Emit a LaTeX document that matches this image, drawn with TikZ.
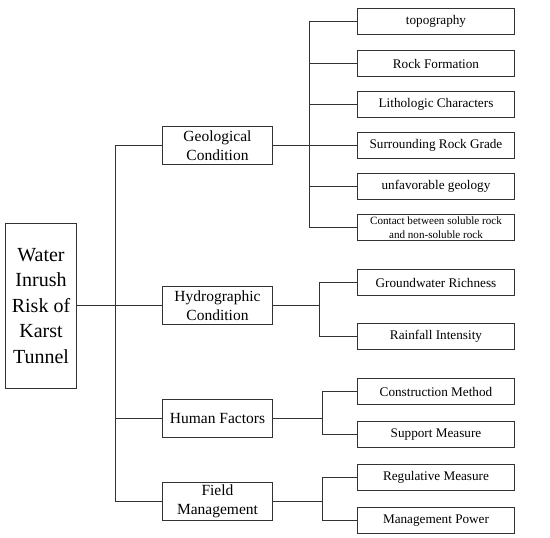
\documentclass[tikz,border=0pt]{standalone}
\usepackage{fontspec}
\setmainfont{Liberation Serif}
\newfontfamily\tnr{Liberation Serif}
\begin{document}
\begin{tikzpicture}[x=1pt,y=-1pt,
  conn/.style={draw=black!80,line width=1.2pt},
  box/.style={draw=black!80,line width=1.2pt,inner sep=0pt,align=center},
  rootbox/.style={box,minimum width=71pt,minimum height=165pt,font=\tnr\fontsize{20}{25.5}\selectfont},
  midbox/.style={box,minimum width=110pt,minimum height=38pt,font=\tnr\fontsize{15.5}{19.3}\selectfont},
  leafbox/.style={box,minimum width=157pt,minimum height=26pt,font=\tnr\fontsize{13.2}{15}\selectfont},
  smallleaf/.style={leafbox,font=\tnr\fontsize{11.1}{13.5}\selectfont}]
\useasboundingbox (0,0) rectangle (550,538);
\node[rootbox] (root) at (41,306) {Water\\Inrush\\Risk of\\Karst\\Tunnel};
\node[midbox] (m1) at (217.5,145.5) {Geological\\Condition};
\node[midbox] (m2) at (217.5,305.5) {Hydrographic\\Condition};
\node[midbox] (m3) at (217.5,418.5) {Human Factors};
\node[midbox] (m4) at (217.5,501.5) {Field\\Management};
\node[leafbox] (g1) at (436,21.5) {topography};
\node[leafbox] (g2) at (436,63.5) {Rock Formation};
\node[leafbox] (g3) at (436,104.5) {Lithologic Characters};
\node[leafbox] (g4) at (436,145.5) {Surrounding Rock Grade};
\node[leafbox] (g5) at (436,186.5) {unfavorable geology};
\node[smallleaf] (g6) at (436,227.5) {Contact between soluble rock\\and non-soluble rock};
\node[leafbox] (h1) at (436,282.5) {Groundwater Richness};
\node[leafbox] (h2) at (436,336.5) {Rainfall Intensity};
\node[leafbox] (u1) at (436,391.5) {Construction Method};
\node[leafbox] (u2) at (436,434.5) {Support Measure};
\node[leafbox] (f1) at (436,477.5) {Regulative Measure};
\node[leafbox] (f2) at (436,520.5) {Management Power};
\coordinate (b) at (115.5,0);
\coordinate (gb) at (309.5,0);
\coordinate (hb) at (319.5,0);
\coordinate (ub) at (322.5,0);
% main bus
\draw[conn] (m1.west) -- (m1.west -| b) -- (m4.west -| b) -- (m4.west);
\draw[conn] (root.east |- m2.west) -- (m2.west);
\draw[conn] (m3.west -| b) -- (m3.west);
% geological
\draw[conn] (m1.east) -- (g4.west);
\draw[conn] (g1.west) -- (g1.west -| gb) -- (g6.west -| gb) -- (g6.west);
\draw[conn] (g2.west -| gb) -- (g2.west);
\draw[conn] (g3.west -| gb) -- (g3.west);
\draw[conn] (g5.west -| gb) -- (g5.west);
% hydrographic
\draw[conn] (m2.east) -- (m2.east -| hb);
\draw[conn] (h1.west) -- (h1.west -| hb) -- (h2.west -| hb) -- (h2.west);
% human
\draw[conn] (m3.east) -- (m3.east -| ub);
\draw[conn] (u1.west) -- (u1.west -| ub) -- (u2.west -| ub) -- (u2.west);
% field
\draw[conn] (m4.east) -- (m4.east -| ub);
\draw[conn] (f1.west) -- (f1.west -| ub) -- (f2.west -| ub) -- (f2.west);
\end{tikzpicture}
\end{document}
